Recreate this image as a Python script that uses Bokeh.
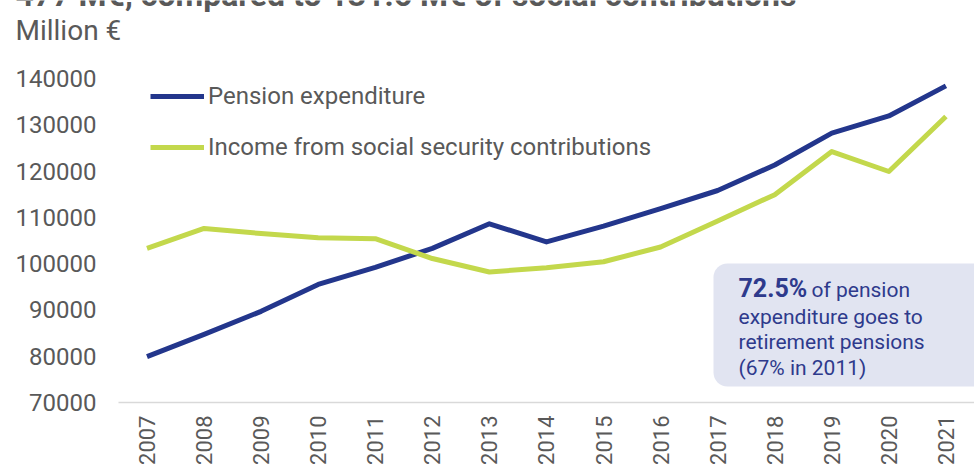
from bokeh.plotting import figure
from bokeh.models import (Range1d, FixedTicker, NumeralTickFormatter, Legend, LegendItem,
                          Label, BoxAnnotation, LinearAxis)
from bokeh.embed import file_html
from bokeh.resources import INLINE
import math

years = [2007, 2008, 2009, 2010, 2011, 2012, 2013, 2014, 2015, 2016, 2017, 2018, 2019, 2020, 2021]
pension_expenditure = [79900, 84700, 89700, 95500, 99200, 103300, 108600, 104700,
                       108100, 111900, 115800, 121300, 128200, 131900, 138400]
social_contributions = [103300, 107600, 106500, 105600, 105400, 101100, 98200, 99100,
                        100400, 103600, 109200, 114900, 124200, 119900, 131800]
y_ticks = [70000, 80000, 90000, 100000, 110000, 120000, 130000, 140000]
series_names = ["Pension expenditure", "Income from social security contributions"]
note_bold = "72.5%"
note_lines = [" of pension", "expenditure goes to", "retirement pensions", "(67% in 2011)"]
subtitle = "Million €"
cut_title = "477 M€, compared to 131.6 M€ of social contributions"

GRAY = "#595959"
BLUE = "#23368c"
GREEN = "#c3d84c"
NOTE = "#2e3a8c"

W, H = 974, 472
AXIS_PX = 402               # pixel row of the x axis (value 70000)
PX_PER_YEAR = 856 / 15
PX_2007 = 146.5
PX_PER_10K = 46.29
x0 = 2007 - PX_2007 / PX_PER_YEAR
x1 = 2007 + (W - PX_2007) / PX_PER_YEAR
y_base = 70000
y0 = y_base - (H - AXIS_PX) / PX_PER_10K * 10000
y1 = y_base + AXIS_PX / PX_PER_10K * 10000

def dx(px):
    return x0 + px / PX_PER_YEAR

def dy(py):
    return y_base + (AXIS_PX - py) / PX_PER_10K * 10000

p = figure(width=W, height=H, output_backend="svg", toolbar_location=None,
           x_range=Range1d(x0, x1), y_range=Range1d(y0, y1),
           x_axis_location=None, y_axis_location=None,
           min_border_left=0, min_border_right=0, min_border_top=0, min_border_bottom=0)
p.outline_line_color = None
p.background_fill_color = "white"
p.border_fill_color = "white"
p.xgrid.visible = False
p.ygrid.visible = False

yaxis = LinearAxis(ticker=FixedTicker(ticks=y_ticks), formatter=NumeralTickFormatter(format="0"),
                   fixed_location=dx(118))
yaxis.axis_line_color = None
yaxis.major_tick_line_color = None
yaxis.minor_tick_line_color = None
yaxis.major_label_text_font = "Roboto"
yaxis.major_label_text_font_size = "24px"
yaxis.major_label_text_color = GRAY
yaxis.major_label_standoff = 16
p.add_layout(yaxis, "left")

xaxis = LinearAxis(ticker=FixedTicker(ticks=years), fixed_location=y_base,
                   bounds=(dx(118), x1))
xaxis.axis_line_color = "#d9d9d9"
xaxis.axis_line_width = 1.5
xaxis.major_tick_line_color = None
xaxis.minor_tick_line_color = None
xaxis.major_label_orientation = math.pi / 2
xaxis.major_label_text_font = "Roboto"
xaxis.major_label_text_font_size = "22px"
xaxis.major_label_text_color = GRAY
xaxis.major_label_standoff = 7
p.add_layout(xaxis, "below")

r1 = p.line(years, pension_expenditure, line_color=BLUE, line_width=5, line_join="round")
r2 = p.line(years, social_contributions, line_color=GREEN, line_width=5, line_join="round")

legend = Legend(items=[LegendItem(label=series_names[0], renderers=[r1]),
                       LegendItem(label=series_names[1], renderers=[r2])],
                location=(150, H - 161), padding=0, margin=0, spacing=23,
                label_height=26, glyph_height=26, glyph_width=54, label_standoff=4,
                label_text_font="Roboto", label_text_font_size="24px",
                label_text_color=GRAY, background_fill_alpha=0, border_line_color=None)
p.add_layout(legend)

box = BoxAnnotation(left=dx(713), right=dx(990), top=dy(263), bottom=dy(386),
                    fill_color="#e1e4f1", fill_alpha=1, line_color=None, border_radius=14)
p.add_layout(box)

p.add_layout(Label(x=dx(738), y=dy(288), text=note_bold, text_font="Roboto",
                   text_font_style="bold", text_font_size="25px", text_color=NOTE,
                   text_baseline="middle", text_align="left"))
p.add_layout(Label(x=dx(811), y=dy(289), text=note_lines[0], text_font="Roboto",
                   text_font_size="21px", text_color=NOTE,
                   text_baseline="middle", text_align="left"))
for i, t in enumerate(note_lines[1:]):
    p.add_layout(Label(x=dx(738), y=dy(316 + i * 25.5), text=t, text_font="Roboto",
                       text_font_size="21px", text_color=NOTE,
                       text_baseline="middle", text_align="left"))

p.add_layout(Label(x=dx(15), y=dy(30), text=subtitle, text_font="Roboto",
                   text_font_size="28px", text_color=GRAY,
                   text_baseline="alphabetic", text_align="left"))
p.add_layout(Label(x=dx(15), y=dy(-6), text=cut_title, text_font="Roboto",
                   text_font_style="bold", text_font_size="32px", text_color=GRAY,
                   text_baseline="alphabetic", text_align="left"))

open("out.html", "w").write(file_html(p, INLINE))
